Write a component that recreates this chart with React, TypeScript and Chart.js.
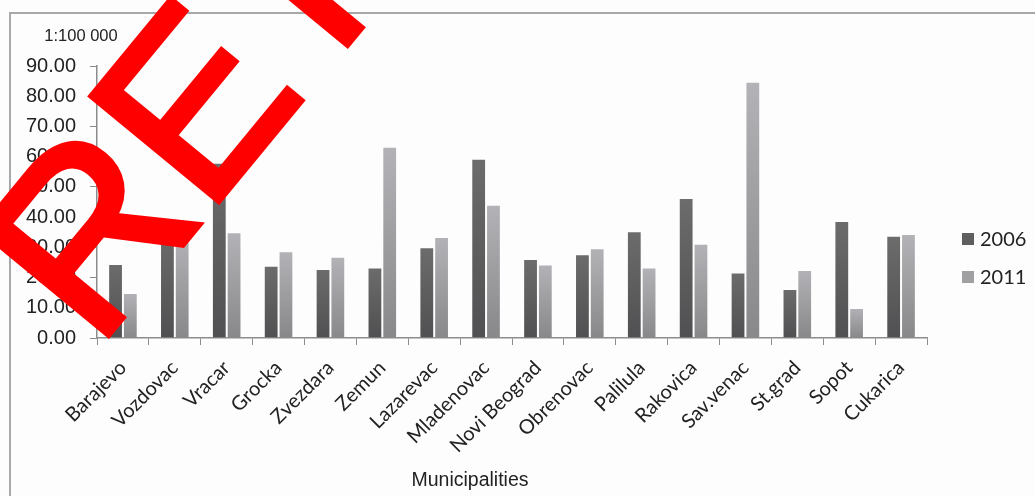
import React, { useEffect, useRef } from "react";
import { Chart, registerables } from "chart.js";

Chart.register(...registerables);

const categories = [
  "Barajevo", "Vozdovac", "Vracar", "Grocka", "Zvezdara", "Zemun", "Lazarevac",
  "Mladenovac", "Novi Beograd", "Obrenovac", "Palilula", "Rakovica", "Sav.venac",
  "St.grad", "Sopot", "Cukarica",
];
const values2006 = [24.5, 36.0, 58.0, 23.9, 22.8, 23.3, 30.0, 59.3, 26.1, 27.7, 35.3, 46.3, 21.7, 16.2, 38.7, 33.8];
const values2011 = [14.9, 33.5, 35.0, 28.7, 26.9, 63.3, 33.4, 44.1, 24.3, 29.7, 23.3, 31.2, 84.8, 22.5, 9.9, 34.4];
const seriesLabels = ["2006", "2011"];
const yUnitLabel = "1:100 000";
const xTitle = "Municipalities";
const stampText = "RETRACTED";

const darkStops = ["#6c6c6c", "#505052"];
const lightStops = ["#b3b3b7", "#88888a"];
const swatch = ["#5e5e5e", "#a0a0a3"];

function barGradient(stops: string[]) {
  return (ctx: any) => {
    if (ctx.type !== "data") return stops[0];
    const chart = ctx.chart;
    const y = chart.scales && chart.scales.y;
    if (!y || !chart.chartArea) return stops[0];
    const top = y.getPixelForValue(ctx.raw);
    const bottom = y.getPixelForValue(0);
    if (!isFinite(top) || !isFinite(bottom) || top === bottom) return stops[0];
    const g = chart.ctx.createLinearGradient(0, top, 0, bottom);
    g.addColorStop(0, stops[0]);
    g.addColorStop(1, stops[1]);
    return g;
  };
}

const decor = {
  id: "decor",
  beforeDraw(chart: any) {
    const c = chart.ctx;
    c.save();
    c.fillStyle = "#fdfdfd";
    c.fillRect(0, 0, chart.width, chart.height);
    c.strokeStyle = "#a8a8a8";
    c.lineWidth = 2;
    c.beginPath();
    c.moveTo(10, chart.height);
    c.lineTo(10, 13);
    c.lineTo(chart.width, 13);
    c.stroke();
    c.restore();
  },
  afterDraw(chart: any) {
    const c = chart.ctx;
    c.save();
    c.fillStyle = "#222";
    c.font = "16.5px 'Liberation Sans', Arial, sans-serif";
    c.textAlign = "center";
    c.textBaseline = "middle";
    c.fillText(yUnitLabel, 81, 36);
    c.font = "19.5px 'Liberation Sans', Arial, sans-serif";
    c.fillText(xTitle, 470, 481);
    const ds = chart.data.datasets;
    c.textAlign = "left";
    c.font = "20px Lato, 'Open Sans', sans-serif";
    ds.forEach((d: any, i: number) => {
      const cy = 239 + i * 38;
      c.fillStyle = swatch[i];
      c.fillRect(962, cy - 6, 12, 12);
      c.fillStyle = "#222";
      c.fillText(d.label, 980, cy + 1);
    });
    c.translate(96, 350);
    c.rotate((-50.5 * Math.PI) / 180);
    c.fillStyle = "#ff0000";
    c.strokeStyle = "#ff0000";
    c.lineWidth = 6;
    c.lineJoin = "miter";
    c.font = "240px 'Liberation Sans', Arial, sans-serif";
    c.textAlign = "left";
    c.textBaseline = "alphabetic";
    c.fillText(stampText, 0, 0);
    c.strokeText(stampText, 0, 0);
    c.restore();
  },
};

export default function App() {
  const ref = useRef<HTMLCanvasElement>(null);
  useEffect(() => {
    if (!ref.current) return;
    const chart = new Chart(ref.current, {
      type: "bar",
      data: {
        labels: categories,
        datasets: [
          {
            label: seriesLabels[0],
            data: values2006,
            backgroundColor: barGradient(darkStops),
            borderColor: "rgba(255,255,255,0.35)",
            borderWidth: 1,
            categoryPercentage: 0.57,
            barPercentage: 1.0,
          },
          {
            label: seriesLabels[1],
            data: values2011,
            backgroundColor: barGradient(lightStops),
            borderColor: "rgba(255,255,255,0.35)",
            borderWidth: 1,
            categoryPercentage: 0.57,
            barPercentage: 1.0,
          },
        ],
      },
      options: {
        responsive: false,
        animation: false,
        devicePixelRatio: 1,
        layout: { padding: { left: 0, top: 66, right: 108, bottom: 0 } },
        plugins: {
          legend: { display: false },
          tooltip: { enabled: false },
        },
        scales: {
          x: {
            grid: {
              offset: true,
              drawOnChartArea: false,
              drawTicks: true,
              tickLength: 7,
              color: "#8c8c8c",
            },
            border: { color: "#8c8c8c", width: 1.5 },
            ticks: {
              color: "#222",
              font: { family: "Lato, 'Open Sans', sans-serif", size: 20 },
              minRotation: 45,
              maxRotation: 45,
              autoSkip: false,
              padding: 11,
            },
            afterFit(scale: any) {
              scale.height = 158;
            },
          },
          y: {
            min: 0,
            max: 90,
            grid: {
              drawOnChartArea: false,
              drawTicks: true,
              tickLength: 7,
              color: "#8c8c8c",
            },
            border: { color: "#8c8c8c", width: 1.5 },
            ticks: {
              stepSize: 10,
              color: "#222",
              padding: 14,
              font: { family: "'Liberation Sans', Arial, sans-serif", size: 20 },
              callback: (v: any) => Number(v).toFixed(2),
            },
            afterFit(scale: any) {
              scale.width = 97;
            },
          },
        },
      },
      plugins: [decor],
    });
    return () => chart.destroy();
  }, []);
  return (
    <div style={{ position: "fixed", left: 0, top: 0, width: 1035, height: 496 }}>
      <canvas ref={ref} width={1035} height={496} style={{ display: "block" }} />
    </div>
  );
}
